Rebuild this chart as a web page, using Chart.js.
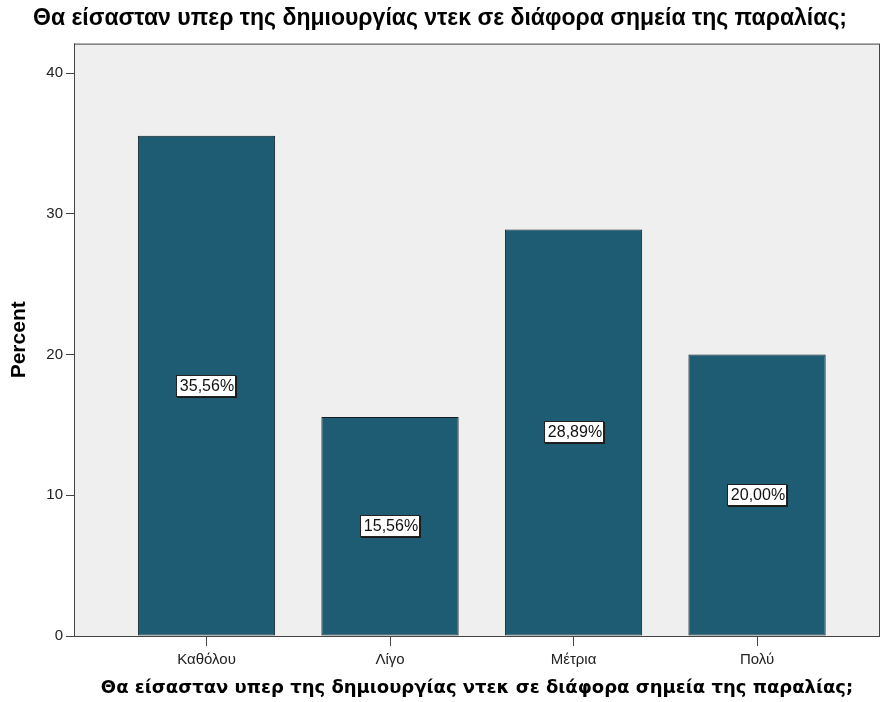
<!DOCTYPE html>
<html>
<head>
<meta charset="utf-8">
<script src="https://cdn.jsdelivr.net/npm/chart.js@4.4.1/dist/chart.umd.min.js"></script>
<style>
  html, body { margin: 0; padding: 0; background: #ffffff; }
  #wrap { width: 880px; height: 702px; position: relative; }
</style>
</head>
<body>
<div id="wrap"><canvas id="barChart" width="880" height="702"></canvas></div>
<script>
var chartTitle = 'Θα είσασταν υπερ της δημιουργίας ντεκ σε διάφορα σημεία της παραλίας;';
var categories = ['Καθόλου', 'Λίγο', 'Μέτρια', 'Πολύ'];
var percents = [35.56, 15.56, 28.89, 20.00];
var yTicks = [0, 10, 20, 30, 40];

var barFill = '#1e5c74';
var barEdge = '#0f1c22';
var plotBg = '#efefef';
var axisColor = '#444444';
var sans = '"Liberation Sans", Arial, sans-serif';

function formatPercent(v) {
    return v.toFixed(2).replace('.', ',') + '%';
}

// plot background and frame, SPSS style
var plotFrame = {
    id: 'plotFrame',
    beforeDatasetsDraw: function (chart) {
        var a = chart.chartArea, ctx = chart.ctx;
        ctx.save();
        ctx.fillStyle = plotBg;
        ctx.fillRect(a.left, a.top, a.right - a.left, a.bottom - a.top);
        ctx.restore();
    },
    afterDatasetsDraw: function (chart) {
        var a = chart.chartArea, ctx = chart.ctx;
        ctx.save();
        ctx.strokeStyle = axisColor;
        ctx.lineWidth = 1;
        ctx.strokeRect(a.left + 0.5, a.top + 0.5, a.right - a.left - 1, a.bottom - a.top);
        ctx.restore();
    }
};

// boxed value labels at the middle of every bar
var boxLabels = {
    id: 'boxLabels',
    afterDraw: function (chart) {
        var ctx = chart.ctx;
        var meta = chart.getDatasetMeta(0);
        ctx.save();
        ctx.font = '16px ' + sans;
        ctx.textAlign = 'center';
        ctx.textBaseline = 'middle';
        meta.data.forEach(function (bar, i) {
            var txt = formatPercent(percents[i]);
            var w = Math.ceil(ctx.measureText(txt).width) + 4;
            var h = 21;
            var cx = Math.round(bar.x);
            var cy = Math.round((bar.y + bar.base) / 2);
            var x0 = cx - Math.round(w / 2), y0 = cy - Math.round(h / 2);
            ctx.fillStyle = '#1a1a1a';
            ctx.fillRect(x0 + 1, y0 + 1, w + 1, h + 1);
            ctx.fillStyle = '#ffffff';
            ctx.fillRect(x0, y0, w, h);
            ctx.strokeStyle = '#222222';
            ctx.lineWidth = 1;
            ctx.strokeRect(x0 + 0.5, y0 + 0.5, w, h);
            ctx.fillStyle = '#111111';
            ctx.fillText(txt, cx + 1, cy + 1);
        });
        ctx.restore();
    }
};

var barChart = new Chart(document.getElementById('barChart'), {
    type: 'bar',
    data: {
        datasets: [{
            label: 'Percent',
            data: categories.map(function (c, i) { return { x: i, y: percents[i] }; }),
            backgroundColor: barFill,
            borderColor: barEdge,
            borderWidth: 1,
            borderSkipped: false,
            categoryPercentage: 1,
            barPercentage: 0.748
        }]
    },
    options: {
        responsive: false,
        animation: false,
        layout: { padding: { top: 0, right: 0, bottom: 0, left: 0 } },
        plugins: {
            legend: { display: false },
            tooltip: { enabled: false },
            title: {
                display: true,
                text: chartTitle,
                color: '#000000',
                font: { family: sans, size: 23, weight: 'bold' },
                padding: { top: 5, bottom: 11 }
            }
        },
        scales: {
            x: {
                type: 'linear',
                min: -0.722,
                max: 3.67,
                offset: false,
                grid: { offset: false, drawOnChartArea: false, drawTicks: true, tickLength: 10, color: axisColor },
                border: { display: true, color: axisColor },
                ticks: {
                    color: '#222222',
                    padding: 5,
                    font: { family: sans, size: 15 },
                    callback: function (v) { return categories[v]; }
                },
                afterBuildTicks: function (scale) {
                    scale.ticks = categories.map(function (c, i) { return { value: i }; });
                },
                afterFit: function (scale) { scale.height = 66; },
                title: {
                    display: true,
                    text: chartTitle,
                    color: '#000000',
                    font: { family: '"DejaVu Sans", Verdana, sans-serif', size: 18, weight: 'bold' },
                    padding: { top: 0, bottom: 3 }
                }
            },
            y: {
                min: 0,
                max: 42.1,
                grid: { drawOnChartArea: false, drawTicks: true, tickLength: 8, color: axisColor },
                border: { display: true, color: axisColor },
                ticks: {
                    color: '#222222',
                    padding: 3,
                    font: { family: sans, size: 15 }
                },
                afterBuildTicks: function (scale) {
                    scale.ticks = yTicks.map(function (v) { return { value: v }; });
                },
                afterFit: function (scale) { scale.width = 74; },
                title: {
                    display: true,
                    text: 'Percent',
                    color: '#000000',
                    font: { family: sans, size: 21, weight: 'bold' },
                    padding: { top: 7, bottom: 0 }
                }
            }
        }
    },
    plugins: [plotFrame, boxLabels]
});
</script>
</body>
</html>
